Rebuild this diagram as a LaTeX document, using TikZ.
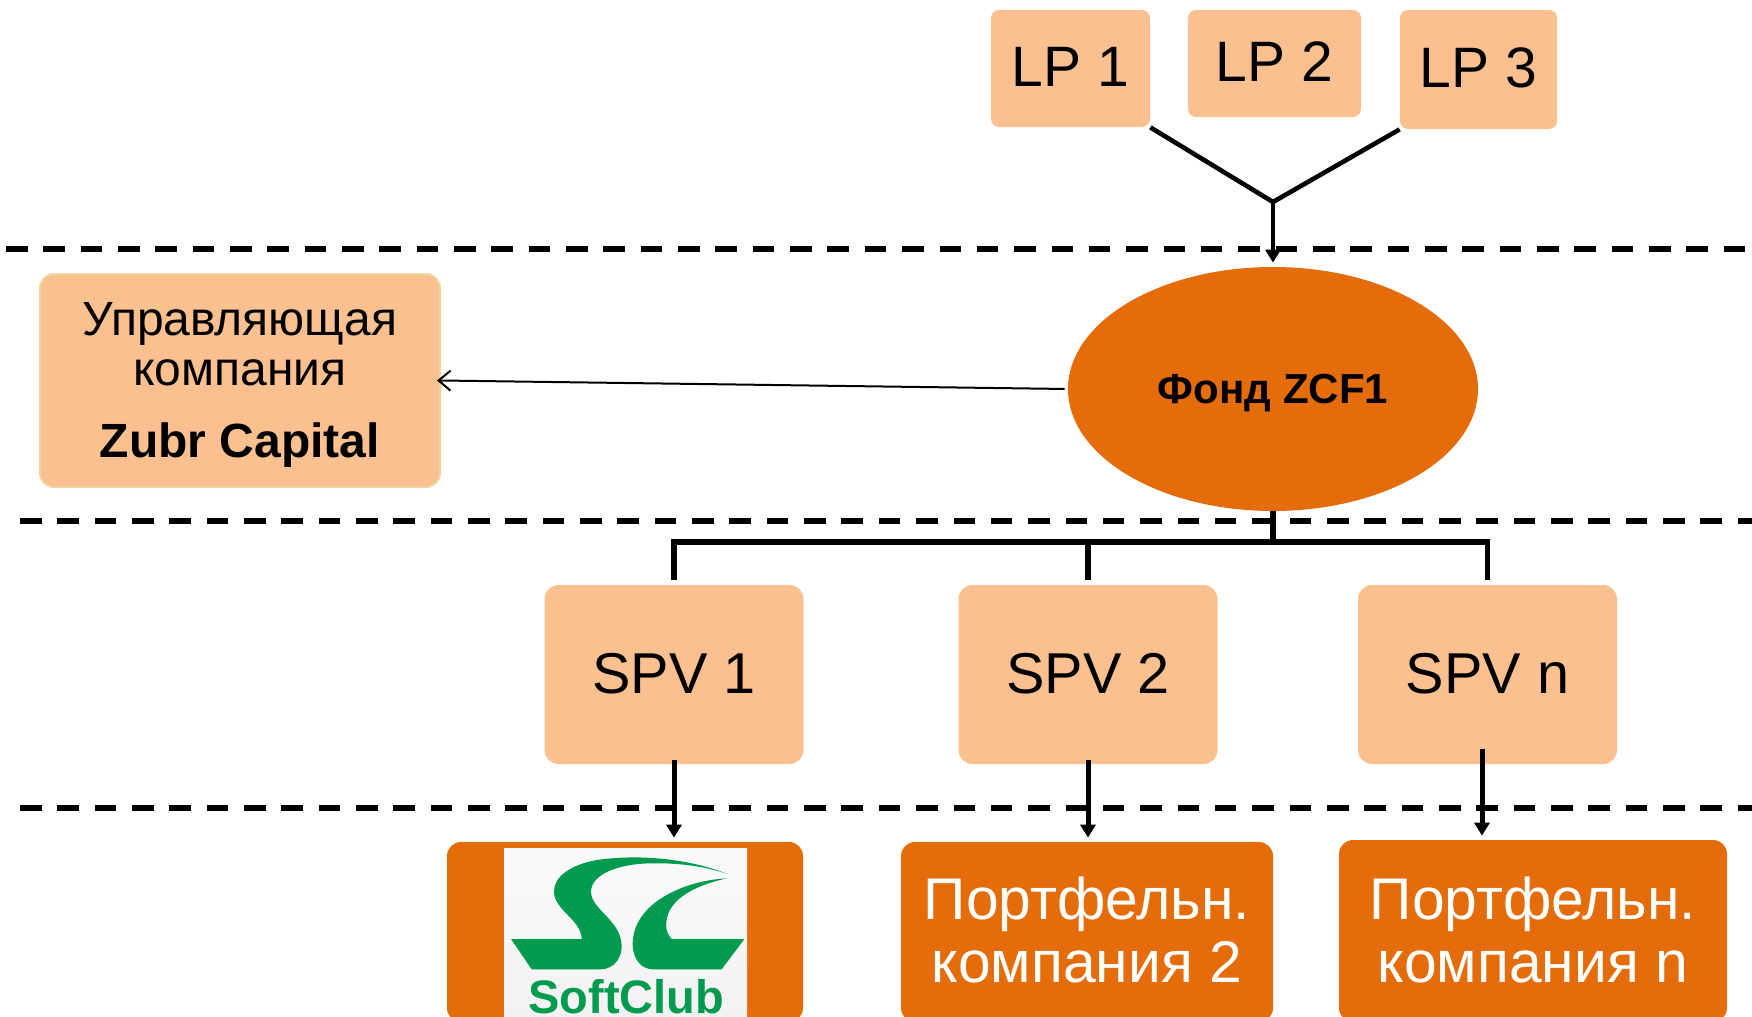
\documentclass[tikz,border=0pt]{standalone}
\usepackage{fontspec}
\setmainfont{Liberation Sans}
\usetikzlibrary{arrows.meta,calc,positioning,shapes.geometric}
\definecolor{peach}{HTML}{FAC090}
\definecolor{burnt}{HTML}{E46C0A}
\definecolor{clubgreen}{HTML}{009B4E}
\definecolor{paleedge}{HTML}{EFD5A0}
\tikzset{
  >={Triangle[width=7.5pt,length=6.5pt]},
  lpbox/.style={rectangle,rounded corners=4pt,fill=peach,inner sep=0pt,text depth=1.7pt,
                font=\fontsize{28.5}{31}\selectfont},
  spvbox/.style={rectangle,rounded corners=7pt,fill=peach,inner sep=0pt,text depth=1pt,
                 minimum width=129.5pt,minimum height=89.5pt,
                 font=\fontsize{28.8}{31}\selectfont},
  orgbox/.style={rectangle,rounded corners=7pt,fill=burnt,inner sep=0pt,text=white,
                 align=center,font=\fontsize{29.4}{31.5}\selectfont},
  levelline/.style={draw,line width=3pt,dash pattern=on 10.8pt off 7.87pt},
  feed/.style={draw,line width=2.3pt},
  down/.style={draw,line width=2.5pt,->,shorten >=2pt,shorten <=-2pt}
}
\begin{document}
\begin{tikzpicture}[x=0.5pt,y=-0.5pt]
      \clip (0,0) rectangle (1752,1017);

      % Draw level separators.
      \draw[levelline] (6,249) -- (1752,249);
      \draw[levelline] (20,521) -- (1752,521);
      \draw[levelline] (20,808) -- (1752,808);

      % Investors.
      \node[lpbox,minimum width=79.5pt,minimum height=58.5pt] (lp1) at (1070.5,68.5) {LP 1};
      \node[lpbox,minimum width=86.5pt,minimum height=53.5pt] (lp2) at (1274.5,63.5) {LP 2};
      \node[lpbox,minimum width=78.5pt,minimum height=59.5pt] (lp3) at (1478.5,69.5) {LP 3};
      \coordinate (joint) at (1273,202);

      % Fund and manager.
      \node[ellipse,fill=burnt,inner sep=0pt,minimum width=205pt,minimum height=122pt,
            font=\fontsize{21}{24}\bfseries\selectfont] (fund) at (1273,389)
            {\rule{0pt}{19pt}Фонд ZCF1};
      \node[rectangle,rounded corners=7pt,fill=peach,draw=paleedge,line width=1pt,
            minimum width=200pt,minimum height=106.5pt,inner sep=0pt,align=center,
            font=\fontsize{24}{25}\selectfont] (mgmt) at (240,380.5)
            {\rule{0pt}{21pt}Управляющая\\компания\\[11pt]\textbf{Zubr Capital}};

      % SPV row.
      \node[spvbox] (spv1) at (674,674.5) {SPV 1};
      \node[spvbox] (spv2) at (1088,674.5) {SPV 2};
      \node[spvbox] (spvn) at (1487.5,674.5) {SPV n};

      % Portfolio row.
      \node[orgbox,minimum width=178pt,minimum height=90pt] (soft) at (625,932) {};
      \node[orgbox,minimum width=186pt,minimum height=90pt] (comp2) at (1087,932)
            {Портфельн.\\компания 2\rule[-2pt]{0pt}{0pt}};
      \node[orgbox,minimum width=194pt,minimum height=91pt] (compn) at (1533,931)
            {Портфельн.\\компания n\rule[-1pt]{0pt}{0pt}};

      % Draw logo.
      \fill[top color=white!98!black,bottom color=white!95!black] (504,848) rectangle (747,1017);
      \begin{scope}[shift={(430,760)},x=0.16667pt,y=-0.16667pt]
        \fill[clubgreen] (895,343) .. controls (790,300) and (640,280) .. (500,300)
        .. controls (420,315) and (372,350) .. (372,395)
        .. controls (372,450) and (455,480) .. (455,537)
        -- (243,537) -- (305,628) -- (510,628)
        .. controls (555,628) and (575,590) .. (575,560)
        .. controls (575,480) and (483,450) .. (483,395)
        .. controls (483,345) and (560,312) .. (660,310)
        .. controls (750,308) and (830,320) .. (895,343) -- cycle;
        \fill[clubgreen] (890,355) .. controls (760,362) and (610,430) .. (608,550)
        .. controls (608,600) and (635,628) .. (670,628)
        -- (875,628) -- (943,537) -- (725,537)
        .. controls (705,515) and (705,490) .. (715,460)
        .. controls (735,410) and (800,375) .. (890,355) -- cycle;
        \node[anchor=base,text=clubgreen,inner sep=0pt,font=\fontsize{23.5}{24}\bfseries\selectfont]
          (logotext) at (589,760) {SoftClub};
      \end{scope}

      % Draw connectors.
      \draw[feed] (lp1.south east) -- (joint);
      \draw[feed] (lp3.south west) -- (joint);
      \draw[draw,line width=2.3pt,->,shorten >=2pt] (joint) -- (fund.north);
      \draw[line width=1pt,-{Straight Barb[length=6pt,width=10pt]},shorten >=-2pt,shorten <=1.5pt]
        (fund.west) -- (mgmt.east);

      \coordinate (bus) at (fund.south |- 0,542);
      \draw[feed,line width=2.6pt] (fund.south) -- (bus);
      \draw[feed,line width=2.6pt] (spv1.north) ++(0,-5) |- (bus) -| ($(spvn.north)+(0,-5)$);
      \draw[feed,line width=2.6pt] ($(spv2.north)+(0,-5)$) -- (spv2 |- bus);

      \draw[down] (spv1.south) -- (spv1 |- soft.north);
      \draw[down] (spv2.south) -- (spv2 |- comp2.north);
      \coordinate (spvnout) at (1482,749);
      \draw[down,shorten <=0pt] (spvnout) -- (spvnout |- compn.north);
\end{tikzpicture}
\end{document}
